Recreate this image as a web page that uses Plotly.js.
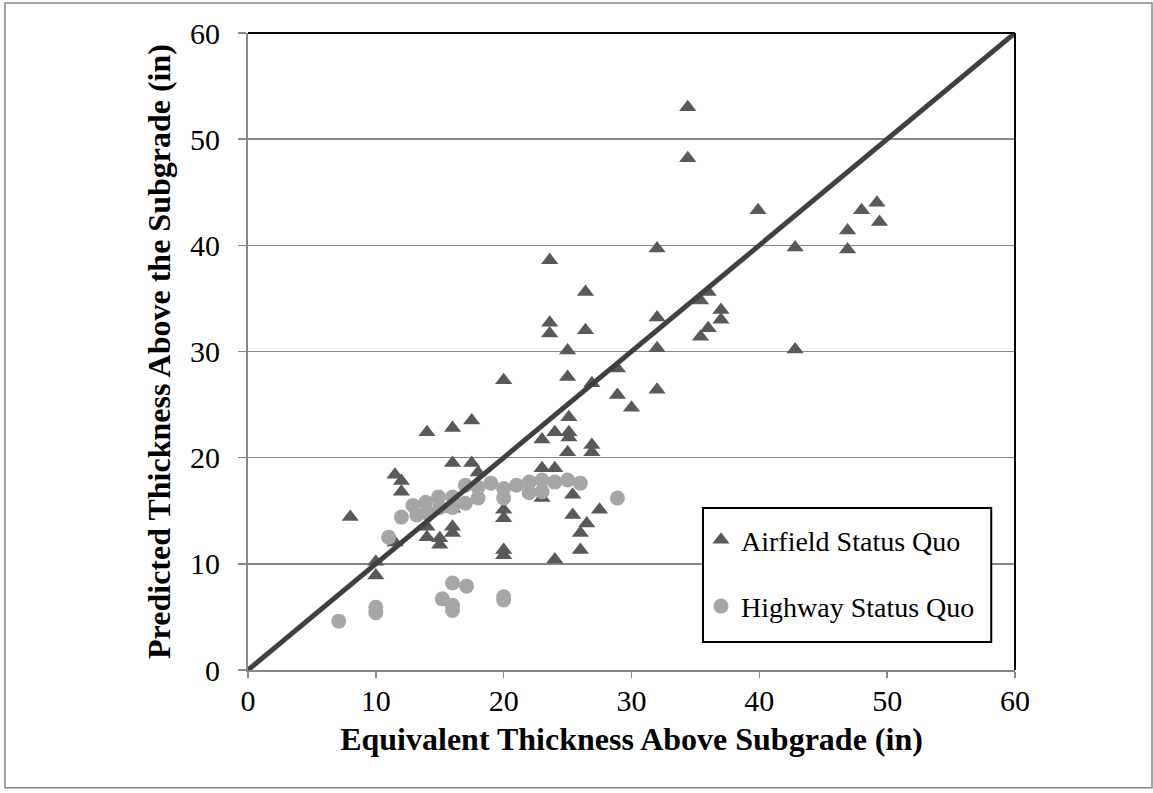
<!DOCTYPE html>
<html>
<head>
<meta charset="utf-8">
<script src="https://cdn.plot.ly/plotly-3.0.1.min.js"></script>
<style>html,body{margin:0;padding:0;background:#fff;}#chart{width:1153px;height:793px;}</style>
</head>
<body>
<div id="chart"></div>
<script>
// Airfield Status Quo (triangles)
const airfieldX = [8.0,10,10,11.5,12,12,11.5,14,14,14,15,15,16,17.5,16,17.5,18,16,16,16,20,20,20,20,20,
  23.6,23.6,23.6,26.4,26.4,25,25,26.9,25.1,24,25.1,25.1,23,26.9,26.9,25,23,24,23,25.4,27.5,25.4,26.5,26,26,24,
  28.9,28.9,30,32,32,32,32,34.4,34.4,35.4,35.4,36,36,37,37,39.9,42.8,42.8,46.9,46.9,48,49.2,49.4];
const airfieldY = [14.4,10.2,8.9,18.4,17.8,16.8,12.0,22.4,13.5,12.5,12.4,11.8,22.8,23.5,19.5,19.5,18.6,15.2,13.5,12.9,27.3,15.1,14.3,11.3,10.8,
  38.6,32.7,31.7,35.6,32.0,30.1,27.6,27.0,23.8,22.4,22.4,21.9,21.7,21.2,20.5,20.5,19.0,19.0,16.2,16.5,15.1,14.6,13.8,12.9,11.3,10.4,
  28.4,25.9,24.7,39.7,33.2,30.3,26.4,53.0,48.2,34.8,31.4,35.6,32.2,33.9,33.0,43.3,39.8,30.2,41.4,39.6,43.3,44.0,42.2];

// Highway Status Quo (circles)
const highwayX = [7.1,10,10,11,12,12.9,13.2,13.9,14,14.9,15,15.2,16,16,16,16,16,17,17,17.1,18,18,19,
  20,20,20,20,21,22,22,23,23,24,25,26,28.9];
const highwayY = [4.6,5.9,5.4,12.5,14.4,15.5,14.6,15.8,14.8,16.3,15.3,6.7,16.3,15.3,8.2,6.1,5.6,17.4,15.7,7.9,17.2,16.2,17.6,
  17.1,16.2,6.9,6.6,17.4,17.7,16.7,17.9,16.8,17.7,17.9,17.6,16.2];

// 1:1 line
const lineX = [0, 60];
const lineY = [0, 60];

const xTickVals = [0,10,20,30,40,50,60];
const yTickVals = [0,10,20,30,40,50,60];

const serif = 'Liberation Serif, Times New Roman, serif';

const traces = [
  {x: airfieldX, y: airfieldY, type: 'scatter', mode: 'markers', name: 'Airfield Status Quo',
   marker: {symbol: 'triangle-up', size: 15, color: '#595959'}, legendgroup: 'a'},
  {x: highwayX, y: highwayY, type: 'scatter', mode: 'markers', name: 'Highway Status Quo',
   marker: {symbol: 'circle', size: 15, color: '#a6a6a6'}, legendgroup: 'h'},
  {x: lineX, y: lineY, type: 'scatter', mode: 'lines', showlegend: false,
   line: {color: '#404040', width: 5}, hoverinfo: 'skip'}
];

const layout = {
  width: 1153, height: 793,
  margin: {l: 248, r: 138, t: 33, b: 123, pad: 0},
  paper_bgcolor: '#fff', plot_bgcolor: '#fff',
  font: {family: serif, color: '#000', size: 30},
  showlegend: true,
  legend: {
    x: 0.5906, y: 0.2433, xanchor: 'left', yanchor: 'top',
    bgcolor: 'rgba(0,0,0,0)', borderwidth: 0,
    font: {family: serif, size: 28, color: '#000'},
    tracegroupgap: 27, traceorder: 'grouped'
  },
  xaxis: {
    range: [0, 60], tickvals: xTickVals, ticktext: xTickVals.map(String),
    showgrid: false, zeroline: false,
    showline: true, linecolor: '#868686', linewidth: 2,
    ticks: 'outside', ticklen: 6, tickwidth: 1.5, tickcolor: '#868686',
    ticklabelstandoff: -3,
    tickfont: {family: serif, size: 30, color: '#000'},
    title: {text: '<b>Equivalent Thickness Above Subgrade (in)</b>', font: {family: serif, size: 32, color: '#000'}, standoff: 12}
  },
  yaxis: {
    range: [0, 60], tickvals: yTickVals, ticktext: yTickVals.map(String),
    showgrid: true, gridcolor: '#868686', gridwidth: 1.5, zeroline: false,
    showline: true, linecolor: '#868686', linewidth: 2,
    ticks: 'outside', ticklen: 8, tickwidth: 1.5, tickcolor: '#868686',
    ticklabelstandoff: 12,
    tickfont: {family: serif, size: 30, color: '#000'},
    title: {text: '<b>Predicted Thickness Above the Subgrade (in)</b>', font: {family: serif, size: 32, color: '#000'}, standoff: 10}
  },
  shapes: [
    {type: 'line', xref: 'paper', yref: 'paper', x0: 0, x1: 1, y0: 1, y1: 1, line: {color: '#000', width: 2}},
    {type: 'line', xref: 'paper', yref: 'paper', x0: 1, x1: 1, y0: 0, y1: 1, line: {color: '#000', width: 2}},
    {type: 'rect', xref: 'paper', yref: 'paper', x0: 0.5932, x1: 0.969, y0: 0.044, y1: 0.2543,
     line: {color: '#000', width: 2}, fillcolor: '#fff', layer: 'above'},
    {type: 'rect', xref: 'paper', yref: 'paper', x0: -0.3168, x1: 1.1786, y0: -0.185, y1: 1.047,
     line: {color: '#868686', width: 1.5}, fillcolor: 'rgba(0,0,0,0)', layer: 'below'}
  ]
};

Plotly.newPlot('chart', traces, layout, {displayModeBar: false, staticPlot: true});
</script>
</body>
</html>
